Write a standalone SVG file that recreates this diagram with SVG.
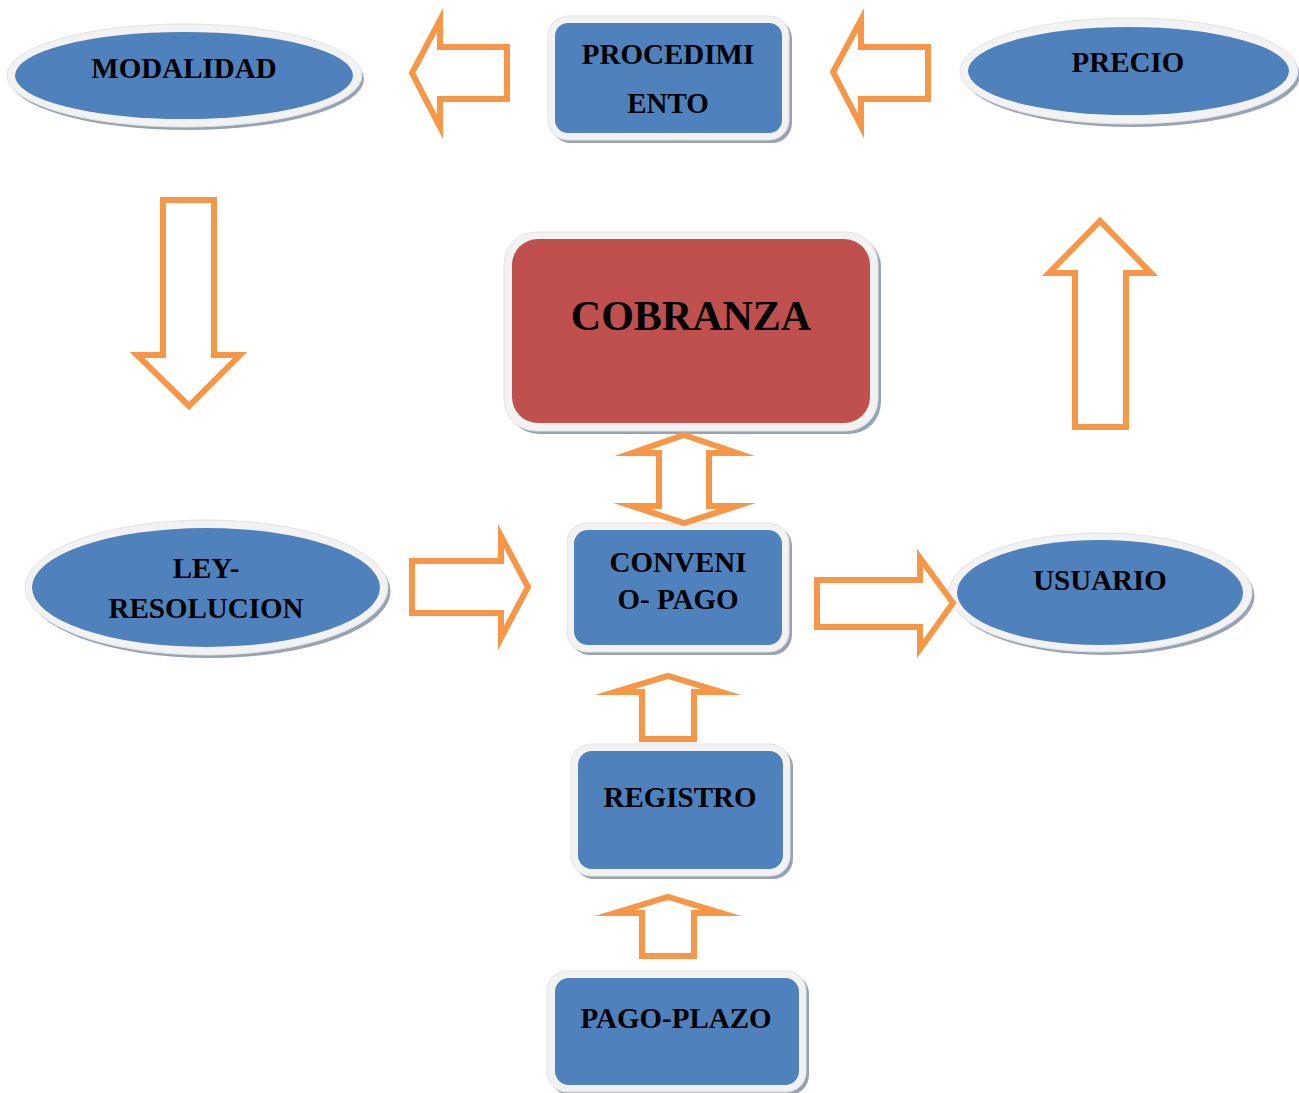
<svg xmlns="http://www.w3.org/2000/svg" width="1299" height="1093" viewBox="0 0 1299 1093">
<style>
.bg{fill:#ffffff}
.shadow{fill:#96a3b7}
.ring{fill:#f2f2f2;stroke:#e2e2e2;stroke-width:1}
.blue{fill:#4f81bd}
.red{fill:#c0504d}
.lbl{font-family:"Liberation Serif","Times New Roman",serif;font-weight:bold;font-size:29px;fill:#000;text-anchor:middle}
.big{font-size:42px}
.arrow{fill:#ffffff;stroke:#f79646;stroke-width:6;stroke-linejoin:miter;stroke-miterlimit:10}
</style>
<rect class="bg" x="0" y="0" width="1299" height="1093"/>

<g id="modalidad">
<ellipse class="shadow" cx="187" cy="79" rx="177" ry="51"/>
<ellipse class="ring" cx="184.5" cy="75.5" rx="177.5" ry="51.5"/>
<ellipse class="blue" cx="184" cy="75.5" rx="169" ry="43.5"/>
<text class="lbl" x="184" y="78">MODALIDAD</text>
</g>

<g id="procedimiento">
<rect class="shadow" x="551" y="19" width="241" height="124" rx="20"/>
<rect class="ring" x="548" y="16" width="241" height="124" rx="20"/>
<rect class="blue" x="555" y="23" width="227" height="110" rx="13"/>
<text class="lbl" x="668" y="64">PROCEDIMI</text>
<text class="lbl" x="668" y="113">ENTO</text>
</g>

<g id="precio">
<ellipse class="shadow" cx="1132" cy="75" rx="168" ry="52"/>
<ellipse class="ring" cx="1129" cy="71" rx="169" ry="53"/>
<ellipse class="blue" cx="1128.5" cy="71" rx="160.5" ry="44"/>
<text class="lbl" x="1128" y="72">PRECIO</text>
</g>

<g id="cobranza">
<rect class="shadow" x="507" y="235" width="374" height="199" rx="32"/>
<rect class="ring" x="504" y="232" width="374" height="199" rx="32"/>
<rect class="red" x="512" y="239" width="358" height="184" rx="26"/>
<text class="lbl big" x="691" y="330">COBRANZA</text>
</g>

<g id="ley-resolucion">
<ellipse class="shadow" cx="209.5" cy="591" rx="181" ry="67"/>
<ellipse class="ring" cx="206.5" cy="587.5" rx="181.5" ry="67.5"/>
<ellipse class="blue" cx="206" cy="587.5" rx="174" ry="59.5"/>
<text class="lbl" x="206" y="578">LEY-</text>
<text class="lbl" x="206" y="618">RESOLUCION</text>
</g>

<g id="convenio-pago">
<rect class="shadow" x="570" y="526" width="222" height="129" rx="20"/>
<rect class="ring" x="567" y="523" width="222" height="129" rx="20"/>
<rect class="blue" x="574" y="530" width="208" height="115" rx="14"/>
<text class="lbl" x="678" y="572">CONVENI</text>
<text class="lbl" x="678" y="609">O- PAGO</text>
</g>

<g id="usuario">
<ellipse class="shadow" cx="1103.5" cy="596" rx="151" ry="59"/>
<ellipse class="ring" cx="1100.5" cy="592.5" rx="151.5" ry="59.5"/>
<ellipse class="blue" cx="1100" cy="592.5" rx="143" ry="52.5"/>
<text class="lbl" x="1100" y="590">USUARIO</text>
</g>

<g id="registro">
<rect class="shadow" x="574" y="747" width="219" height="132" rx="20"/>
<rect class="ring" x="571" y="744" width="219" height="132" rx="20"/>
<rect class="blue" x="578" y="751" width="205" height="118" rx="14"/>
<text class="lbl" x="680" y="807">REGISTRO</text>
</g>

<g id="pago-plazo">
<rect class="shadow" x="550" y="974" width="259" height="121" rx="20"/>
<rect class="ring" x="547" y="971" width="259" height="121" rx="20"/>
<rect class="blue" x="555" y="978" width="244" height="107" rx="14"/>
<text class="lbl" x="676" y="1028">PAGO-PLAZO</text>
</g>

<g id="connectors">
<path class="arrow" d="M507,47 L440,47 L440,20 L412,73 L440,127 L440,99 L507,99 Z"/>
<path class="arrow" d="M928,47 L861,47 L861,20 L833,72 L861,126 L861,99 L928,99 Z"/>
<path class="arrow" d="M163,200 L214,200 L214,355 L240,355 L189,406 L137,355 L163,355 Z"/>
<path class="arrow" d="M1075,427 L1126,427 L1126,273 L1151,273 L1100,221 L1049,273 L1075,273 Z"/>
<path class="arrow" d="M684,435 L737,453 L709,453 L709,506 L737,506 L684,523 L632,506 L659,506 L659,453 L632,453 Z"/>
<path class="arrow" d="M412,561 L501,561 L501,536 L528,587 L501,638 L501,613 L412,613 Z"/>
<path class="arrow" d="M817,580 L920,580 L920,558 L953,603 L920,649 L920,627 L817,627 Z"/>
<path class="arrow" d="M642,739 L694,739 L694,692 L721,692 L668,676 L615,692 L642,692 Z"/>
<path class="arrow" d="M642,956 L694,956 L694,913 L721,913 L668,897 L615,913 L642,913 Z"/>
</g>
</svg>
